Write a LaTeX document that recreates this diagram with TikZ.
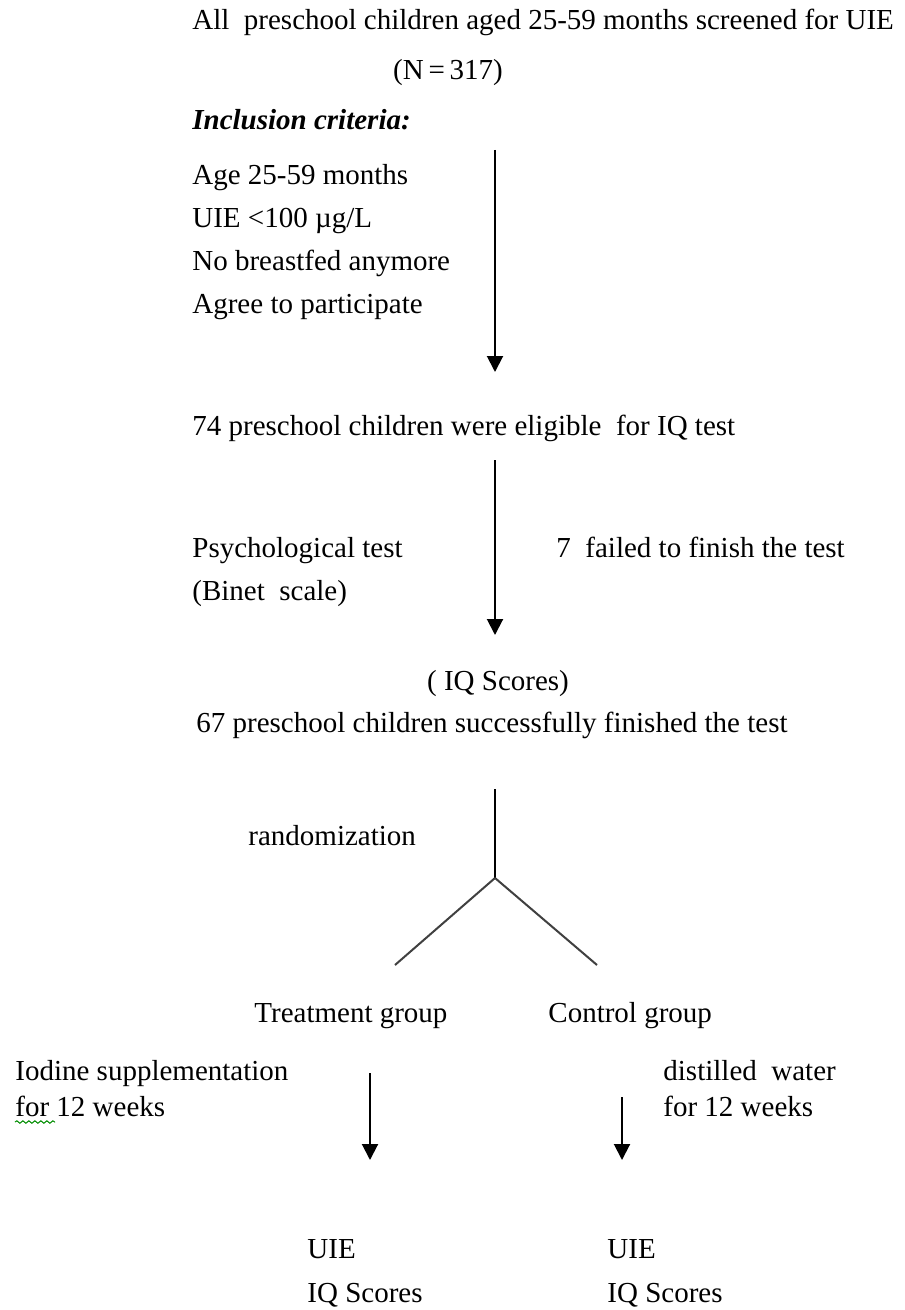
\documentclass[tikz,border=0pt]{standalone}
\usepackage{fontspec}
\setmainfont{Liberation Serif}
\usetikzlibrary{arrows.meta,decorations.pathmorphing}

\begin{document}
\begin{tikzpicture}[x=0.5pt,y=-0.5pt,font=\fontsize{14.5}{17}\selectfont,
  txt/.style={anchor=base west,inner sep=0pt},
  ctr/.style={anchor=base,inner sep=0pt},
  arr/.style={line width=1pt,-{Triangle[length=8pt,width=8pt]}},
  ln/.style={line width=1pt}]
\useasboundingbox (0,0) rectangle (904,1310);
			% screening and inclusion
			\node[txt] (all) at (192,30) {All~ preschool children aged 25-59 months screened for UIE};
			\node[ctr] (n) at (448,80) {(N\,=\,317)};
			\node[txt] (incl) at (192,130) {\textbf{\textit{Inclusion criteria:}}};
			\node[txt] (age) at (192,185) {Age 25-59 months};
			\node[txt] (uie) at (192,228) {UIE <100 µg/L};
			\node[txt] (nobf) at (192,271) {No breastfed anymore};
			\node[txt] (agree) at (192,314) {Agree to participate};
			\coordinate (a1s) at (495,150);
			\coordinate (a1e) at (495,372);
			\draw[arr] (a1s) -- (a1e);
			% IQ test
			\node[txt] (elig) at (192,435) {74 preschool children were eligible~ for IQ test};
			\coordinate (a2s) at (495,460);
			\coordinate (a2e) at (495,635);
			\draw[arr] (a2s) -- (a2e);
			\node[txt] (psy) at (192,557) {Psychological test};
			\node[txt] (binet) at (192,600) {(Binet~ scale)};
			\node[txt] (fail) at (556,557) {7~ failed to finish the test};
			\node[ctr] (iq) at (498,690) {( IQ Scores)};
			\node[txt] (fin) at (196,732) {67 preschool children successfully finished the test};
			% randomization
			\coordinate (f0) at (495,789);
			\coordinate (f1) at (495,878);
			\coordinate (fl) at (395,965);
			\coordinate (fr) at (597,965);
			\draw[ln] (f0) -- (f1);
			\draw[ln,black!75] (f1) -- (fl) (f1) -- (fr);
			\node[txt] (rand) at (248,845) {randomization};
			\node[txt] (treat) at (254,1022) {Treatment group};
			\node[txt] (ctrl) at (548,1022) {Control group};
			% groups
			\node[txt] (iod) at (15,1080) {Iodine supplementation};
			\node[txt] (for1) at (15,1116) {for 12 weeks};
			\draw[green!55!black,line width=0.5pt,decorate,decoration={snake,amplitude=0.6pt,segment length=3pt}]
				([yshift=-3pt]for1.base west) -- ++(40,0);
			\node[txt] (dist) at (663,1080) {distilled~ water};
			\node[txt] (for2) at (663,1116) {for 12 weeks};
			\coordinate (l1) at (370,1073);
			\coordinate (l2) at (370,1160);
			\coordinate (r1) at (622,1097);
			\coordinate (r2) at (622,1160);
			\draw[arr] (l1) -- (l2);
			\draw[arr] (r1) -- (r2);
			\node[txt] (uie1) at (307,1258) {UIE};
			\node[txt] (sc1) at (307,1302) {IQ Scores};
			\node[txt] (uie2) at (607,1258) {UIE};
			\node[txt] (sc2) at (607,1302) {IQ Scores};
		\end{tikzpicture}
\end{document}
